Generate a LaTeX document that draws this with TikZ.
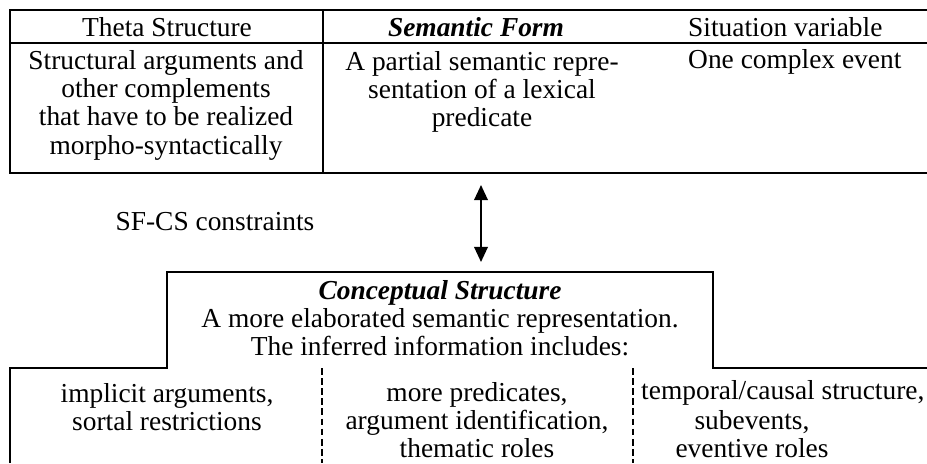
\documentclass[tikz,border=0pt]{standalone}
\usepackage{fontspec}
\setmainfont{Liberation Serif}
\usetikzlibrary{arrows.meta}

\begin{document}
\begin{tikzpicture}[x=0.445pt,y=-0.445pt,line width=1.1pt,
  every node/.style={inner sep=0pt,font=\fontsize{12.2}{12.4}\selectfont},
  cell/.style={align=center},
  tall/.style={font=\fontsize{12.2}{12.6}\selectfont},
  divider/.style={dash pattern=on 3pt off 1.5pt,line width=1.2pt},
  link/.style={<->,line width=0.9pt,>={Triangle[width=6pt,length=6.7pt]}}]
  \useasboundingbox (0,0) rectangle (927,463);

  \draw (927,10) -- (10,10) -- (10,173) -- (927,173);
  \draw (10,43) -- (927,43);
  \draw (323,10) -- (323,173);

  \node (theta)  at (167,27) {Theta Structure};
  \node (sf)     at (476,27) {\textbf{\textit{Semantic Form}}};
  \node[anchor=west] (sit) at (687,27) {Situation variable};

  \node[cell,tall] (thetaText) at (166,105)
    {Structural arguments and\\other complements\\that have to be realized\\morpho-syntactically};
  \node[cell,tall] (sfText) at (482,92)
    {A partial semantic repre-\\sentation of a lexical\\predicate};
  \node[anchor=west] (sitText) at (687,62) {One complex event};

  \coordinate (sfEnd) at (481,185);
  \coordinate (csEnd) at (481,262);
  \draw[link] (sfEnd) -- (csEnd);
  \node (constr) at (215,222) {SF-CS constraints};

  \draw (10,463) -- (10,368) -- (167,368) -- (167,272) -- (713,272)
    -- (713,368) -- (927,368);
  \draw[divider] (322,368) -- (322,463);
  \draw[divider] (633,368) -- (633,463);

  \node[cell] (cs) at (440,318)
    {\textbf{\textit{Conceptual Structure}}\\A more elaborated semantic representation.\\The inferred information includes:};
  \node[cell] (implicit) at (167,407)
    {implicit arguments,\\sortal restrictions};
  \node[cell] (pred) at (477,420)
    {more predicates,\\argument identification,\\thematic roles};
  \node[anchor=west] (temporal) at (640,393) {temporal/causal structure,};
  \node[cell] (subev) at (752,434) {subevents,\\eventive roles};
\end{tikzpicture}
\end{document}
